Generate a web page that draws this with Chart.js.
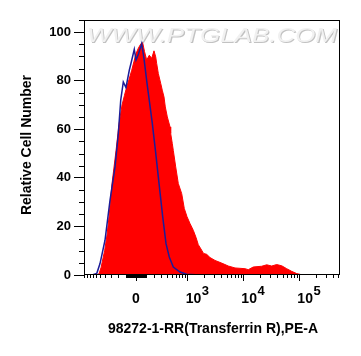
<!DOCTYPE html>
<html><head><meta charset="utf-8">
<script src="https://cdn.jsdelivr.net/npm/chart.js@4.4.1/dist/chart.umd.min.js"></script>
<style>html,body{margin:0;padding:0;background:#fff;}canvas{display:block;}</style>
</head><body>
<canvas id="c" width="361" height="356"></canvas>
<script>
// Positions are in logicle display units (decade units: 10^3 -> 3, 10^4 -> 4 ...)
const stainedX = [1.380,1.416,1.452,1.518,1.559,1.595,1.648,1.720,1.773,1.827,1.871,1.911,1.952,2.000,2.041,2.077,2.121,2.166,2.196,2.229,2.268,2.314,2.357,2.398,2.429,2.446,2.475,2.518,2.546,2.577,2.600,2.636,2.684,2.696,2.725,2.743,2.786,2.832,2.893,2.939,2.988,3.041,3.100,3.148,3.189,3.250,3.282,3.339,3.398,3.488,3.607,3.725,3.845,4.023,4.082,4.171,4.321,4.411,4.500,4.589,4.679,4.768,4.857,4.946,5.036,5.184,5.720];
const stainedY = [0,0.5,3,10.2,16.5,23.9,37.5,51.2,62,70,74,77.5,80.5,84.3,88,91.2,93.5,95.3,95.6,92,88.5,90.5,89.2,92.3,89.8,87.1,83,78.9,76.1,73.3,69.2,65.1,61,58.3,54.1,51.3,44.5,37.7,33.5,27.4,24,21.2,18.4,15.5,12.5,10.2,8.9,8.5,7.2,6.0,4.9,3.7,2.9,2.6,2.2,3.3,3.6,4.2,3.7,4.3,3.8,2.6,1.5,0.6,0.1,0,0];
const controlX = [1.291,1.375,1.434,1.523,1.613,1.702,1.761,1.804,1.850,1.898,1.957,1.996,2.046,2.077,2.121,2.179,2.220,2.273,2.368,2.425,2.488,2.554,2.613,2.671,2.743,2.862,2.982,3.220,3.755];
const controlY = [0,0.6,4.7,14.3,30.8,44.5,58.3,72,79.5,77.2,84.3,88,92.9,88.5,91,95.3,89,79,62.4,51,37.7,23.9,12.9,7.4,3.3,1.2,0.3,0,0];
const yTickValues = [0,20,40,60,80,100];
const xMajorValues = [0,1e3,1e4,1e5];
const xMajorBase = ['0','10','10','10'];
const xMajorExp = ['','3','4','5'];
const xTitle = '98272-1-RR(Transferrin R),PE-A';
const yTitle = 'Relative Cell Number';
const watermark = 'WWW.PTGLAB.COM';

const FONT = '"Liberation Sans", Arial, sans-serif';
const ZERO_POS = 2.077, LIN_W = 242;
function logicle(v){ return ZERO_POS + Math.asinh(v / LIN_W) / Math.LN10; }

// minor tick values (raw fluorescence)
const xMinorValues = [];
for (let k = 1; k <= 9; k++) { xMinorValues.push(-k*100, -k*10, k*10, k*100); }
xMinorValues.push(-1000);
for (let k = 2; k <= 9; k++) { xMinorValues.push(k*1e3, k*1e4); }
for (let k = 2; k <= 5; k++) { xMinorValues.push(k*1e5); }

const deco = {
  id: 'deco',
  beforeDatasetsDraw(chart){
    const {ctx, chartArea:a} = chart;
    ctx.save();
    ctx.beginPath(); ctx.rect(a.left, a.top, a.right-a.left, a.bottom-a.top); ctx.clip();
    ctx.font = 'italic 21px ' + FONT;
    const w = ctx.measureText(watermark).width;
    ctx.translate(212, 42);
    ctx.scale(250 / w, 1);
    ctx.textAlign = 'center'; ctx.textBaseline = 'alphabetic';
    ctx.fillStyle = '#c2c2c2'; ctx.fillText(watermark, 0.9, 0.9);
    ctx.fillStyle = '#f1f1f1'; ctx.fillText(watermark, 0, 0);
    ctx.restore();
  },
  afterDraw(chart){
    const {ctx, chartArea:a, scales:{x, y}} = chart;
    ctx.save();
    ctx.strokeStyle = '#000'; ctx.lineWidth = 1;
    const L = Math.round(a.left), R = Math.round(a.right), T = Math.round(a.top), B = Math.round(a.bottom);
    ctx.strokeRect(L + 0.5, T + 0.5, R - L - 1, B - T - 1);
    // minor ticks
    ctx.beginPath();
    for (let v = 5; v <= 105; v += 5) {
      if (v % 20 === 0) continue;
      const py = Math.round(y.getPixelForValue(v)) + 0.5;
      ctx.moveTo(L - 5, py); ctx.lineTo(L + 0.5, py);
    }
    xMinorValues.forEach(v => {
      const u = logicle(v);
      if (u < x.min || u > x.max) return;
      const px = Math.round(x.getPixelForValue(u)) + 0.5;
      ctx.moveTo(px, B - 0.5); ctx.lineTo(px, B + 3);
    });
    ctx.stroke();
    // x tick labels with superscripts
    ctx.fillStyle = '#000'; ctx.textBaseline = 'alphabetic';
    xMajorValues.forEach((v, i) => {
      const px = x.getPixelForValue(logicle(v));
      ctx.font = 'bold 14px ' + FONT;
      if (!xMajorExp[i]) {
        ctx.textAlign = 'center';
        ctx.fillText(xMajorBase[i], px, 302.5);
      } else {
        ctx.textAlign = 'left';
        ctx.fillText(xMajorBase[i], px - 2, 303);
        const bw = ctx.measureText(xMajorBase[i]).width;
        ctx.font = 'bold 13px ' + FONT;
        ctx.fillText(xMajorExp[i], px - 2 + bw + 0.5, 295);
      }
    });
    // axis titles
    ctx.font = 'bold 14px ' + FONT;
    ctx.textAlign = 'center';
    ctx.fillText(xTitle, (a.left + a.right) / 2 + 1, 333);
    ctx.translate(27, 145);
    ctx.rotate(-Math.PI / 2);
    ctx.textBaseline = 'middle';
    ctx.fillText(yTitle, 0, 0);
    ctx.restore();
  }
};

new Chart(document.getElementById('c'), {
  type: 'line',
  data: {
    datasets: [
      { label: 'control', data: controlX.map((v, i) => ({x: v, y: controlY[i]})),
        borderColor: '#1c1c98', borderWidth: 1.5, pointRadius: 0, fill: false, tension: 0, order: 0 },
      { label: 'stained', data: stainedX.map((v, i) => ({x: v, y: stainedY[i]})),
        borderColor: '#ff0000', backgroundColor: '#ff0000', borderWidth: 1, pointRadius: 0,
        fill: 'origin', tension: 0, order: 1 }
    ]
  },
  options: {
    responsive: false, animation: false, devicePixelRatio: 1,
    layout: { padding: { top: 20, right: 21, left: 0, bottom: 0 } },
    plugins: { legend: { display: false }, tooltip: { enabled: false } },
    scales: {
      x: {
        type: 'linear', min: 1.148, max: 5.72,
        afterBuildTicks: s => { s.ticks = xMajorValues.map(v => ({ value: logicle(v) })); },
        afterFit: s => { s.height = 81; },
        border: { display: false },
        grid: { drawOnChartArea: false, drawTicks: true, tickLength: 6, tickColor: '#000', tickWidth: 1 },
        ticks: { display: false }
      },
      y: {
        min: 0, max: 105,
        afterBuildTicks: s => { s.ticks = yTickValues.map(v => ({ value: v })); },
        afterFit: s => { s.width = 84; },
        border: { display: false },
        grid: { drawOnChartArea: false, drawTicks: true, tickLength: 10, tickColor: '#000', tickWidth: 1 },
        ticks: { color: '#000', padding: 3, font: { family: FONT, size: 13, weight: 'bold' } }
      }
    }
  },
  plugins: [deco]
});
</script>
</body></html>
